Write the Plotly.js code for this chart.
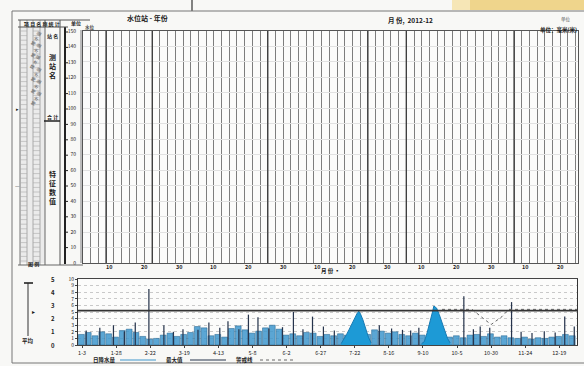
<!DOCTYPE html>
<html><head><meta charset="utf-8">
<script src="https://cdn.plot.ly/plotly-3.0.1.min.js"></script>
<style>html,body{margin:0;padding:0;background:#f8f8f6;}#chart{width:584px;height:366px;}</style>
</head><body><div id="chart"></div>
<script>
// ---------- data ----------
const pentadVals = [1.6,1.9,1.4,2.0,1.7,1.2,2.2,2.4,1.9,1.3,
  0.9,1.0,1.5,1.8,1.3,1.6,1.9,2.8,2.6,1.4,
  1.6,1.2,2.5,2.9,2.3,1.8,2.1,2.6,3.0,2.4,
  1.5,1.7,1.4,1.9,1.8,1.3,1.6,1.4,1.7,1.5,
  1.2,1.0,1.6,2.3,2.1,1.8,2.0,1.6,1.4,1.8,
  1.5,1.0,1.0,1.3,1.2,1.4,1.1,1.5,1.6,1.3,
  1.7,1.2,1.4,1.1,1.0,1.2,0.9,1.1,1.0,1.2,
  1.3,1.6,1.4];
const spikeDays = [6,16,26,34,42,52,63,70,77,88,96,104,110,118,125,132,140,150,158,165,172,180,188,221,230,238,244,250,283,290,295,302,318,325,333,342,350,357,364];
const spikeVals = [2.2,2.6,3.0,2.1,3.4,8.5,3.0,2.0,2.4,2.3,3.4,2.6,3.6,2.4,4.6,4.2,2.5,2.7,5.0,2.4,4.3,2.8,2.2,3.0,2.5,2.3,2.2,2.6,7.4,2.4,2.8,2.6,6.5,2.0,1.8,2.1,1.9,4.3,2.8];
const flood1Days = [193,195,197,199,201,203,205,206,207,209,211,213,215];
const flood1Vals = [0.2,0.8,1.6,2.4,3.3,4.2,4.9,5.1,4.8,3.8,2.5,1.2,0.3];
const flood2Days = [252,254,256,258,260,261,263,265,267,269,271,273];
const flood2Vals = [0.2,0.5,1.8,3.2,5.0,5.9,5.6,4.6,3.4,2.2,1.0,0.3];
const warnDays = [267,289,295,303,311,316,366];
const warnVals = [5.4,5.4,4.4,3.1,4.3,5.4,5.4];
const meanLevel = 5.2;
const bottomTickDays = [3,28,53,78,103,128,153,178,203,228,253,278,303,328,353];
const bottomTickText = ["1-3","1-28","2-22","3-19","4-13","5-8","6-2","6-27","7-22","8-16","9-10","10-5","10-30","11-24","12-19"];
const topTickPos = [3.5,8,12.5,17,21.5,26,30.5,35,39.5,44,48.5,53,57.5,62];
const topTickText = ["10","20","30","10","20","30","10","20","30","10","20","30","10","20"];
const topLevelVals = [0,1,2,3,4,5,6,7,8,9,10,11,12,13,14,15];
const topLevelText = ["0","10","20","30","40","50","60","70","80","90","100","110","120","130","140","150"];
const monthLines = [3,9,24,37,42,56];
const leftScaleVals = [0,2,4,6,8,10];
const leftScaleText = ["0","1","2","3","4","5"];
const legendNames = ["日降水量","最大值","警戒线"];

// ---------- helpers ----------
const W = 584, H = 366, F = '"Noto Sans CJK SC","Noto Sans",sans-serif';
const px = x => x / W, py = y => 1 - y / H;
function ln(x0,y0,x1,y1,c,w,dash){return {type:'line',xref:'paper',yref:'paper',x0:px(x0),y0:py(y0),x1:px(x1),y1:py(y1),line:{color:c,width:w,dash:dash||'solid'},layer:'above'};}
function rc(x0,y0,x1,y1,fill,lc,lw,layer){return {type:'rect',xref:'paper',yref:'paper',x0:px(x0),y0:py(y0),x1:px(x1),y1:py(y1),fillcolor:fill,line:{color:lc||'rgba(0,0,0,0)',width:lw||0},layer:layer||'below'};}
function tx(x,y,t,size,o){return Object.assign({xref:'paper',yref:'paper',x:px(x),y:py(y),text:t,showarrow:false,font:{size:size,color:'#1a1a1a',family:F},xanchor:'center',yanchor:'middle'},o||{});}

// ---------- traces ----------
const pentadDays = pentadVals.map((v,i)=>5*i+2.5);
const traces = [
  {type:'bar',x:pentadDays,y:pentadVals,width:4.3,xaxis:'x2',yaxis:'y2',name:legendNames[0],
   marker:{color:'rgba(62,150,204,0.85)',line:{color:'#1f5f8a',width:0.5}}},
  {type:'scatter',x:flood1Days,y:flood1Vals,xaxis:'x2',yaxis:'y2',mode:'lines',fill:'tozeroy',
   fillcolor:'#1d9ad6',line:{color:'#167ab3',width:1}},
  {type:'scatter',x:flood2Days,y:flood2Vals,xaxis:'x2',yaxis:'y2',mode:'lines',fill:'tozeroy',
   fillcolor:'#1d9ad6',line:{color:'#167ab3',width:1}},
  {type:'bar',x:spikeDays,y:spikeVals,width:0.9,xaxis:'x2',yaxis:'y2',name:legendNames[1],
   marker:{color:'#26344c'}},
  {type:'scatter',x:warnDays,y:warnVals,xaxis:'x2',yaxis:'y2',mode:'lines',name:legendNames[2],
   line:{color:'#666',width:1,dash:'dot'}}
];

// ---------- decorations ----------
const shapes = [];
const ann = [];
shapes.push(rc(452,0,584,10,'#efd58c'));
shapes.push(rc(452,0,470,10,'#f6e6b6'));
shapes.push(ln(192,0,192,11,'#333',1.2));
shapes.push(rc(12,11,600,363,'rgba(0,0,0,0)','#777',1,'above'));
// left panel
shapes.push(rc(20,27,45,263,'#ebebeb'));
shapes.push(rc(80,30,83,263,'#bcbcbc'));
[[20,'#777',1],[27,'#999',0.8],[33,'#999',0.8],[40,'#999',0.8],[45,'#666',1],[60,'#555',1]].forEach(a=>shapes.push(ln(a[0],20,a[0],265,a[1],a[2])));
shapes.push(ln(65,27,65,264,'#222',2));
shapes.push(ln(18,20,90,20,'#555',1));
shapes.push(ln(18,27,68,27,'#555',1));
shapes.push(ln(18,265,83,265,'#666',1));
for(let y=31;y<263;y+=4.6){shapes.push(ln(20,y,27,y,'#aaa',0.6));shapes.push(ln(33,y,40,y,'#aaa',0.6));}
for(let y=32;y<263;y+=15.4){shapes.push(ln(65,y,68,y,'#222',1));}
ann.push(tx(42,23.5,'<b>项 目 名 称 统 计</b>',5));
ann.push(tx(76,23,'<b>单位</b>',5));
ann.push(tx(90,27,'<b>水位</b>',4.5,{font:{size:4.5,color:'#444',family:F}}));
[38,50,62,74,86,98].forEach(y=>ann.push(tx(36,y,'降 水 量',4.5,{textangle:-60,font:{size:4.5,color:'#555',family:F}})));
ann.push(tx(52,36,'<b>站 名</b>',5));
ann.push(tx(52,117,'<b>合 计</b>',5));
shapes.push(ln(44,121,60,121,'#222',1.5));
ann.push(tx(52.5,66,'<b>测<br>站<br>名</b>',7));
ann.push(tx(52.5,187,'<b>特<br>征<br>数<br>值</b>',7));
ann.push(tx(17,108,'▸',5));
ann.push(tx(17,185,'—',5));
// bottom-left scale
ann.push(tx(33,264,'<b>图 例</b>',5));
shapes.push(ln(28,283,28,336,'#333',1));
shapes.push(ln(24,283,33,283,'#222',1.6));
ann.push(tx(33,311,'▸',6));
ann.push(tx(28,341,'<b>平均</b>',5.5));
leftScaleVals.forEach((v,i)=>ann.push({xref:'paper',yref:'y2',x:px(53),y:v,text:'<b>'+leftScaleText[i]+'</b>',showarrow:false,
  font:{size:6,color:'#222',family:F},xanchor:'center',yanchor:'middle'}));
// header texts
ann.push(tx(147,17.5,'<b>水位站 - 年份</b>',7));
ann.push(tx(410,19.5,'<b>月 份,  2012-12</b>',6.5));
ann.push(tx(566,20,'单位',4.5,{font:{size:4.5,color:'#555',family:F}}));
ann.push(tx(558,30,'<b>单位：毫米(米)</b>',5.5));
ann.push(tx(330,271,'<b>月 份 ▪</b>',5.5));
// top x tick labels placed through the top x scale
topTickPos.forEach((p,i)=>ann.push({xref:'x',yref:'paper',x:p,y:py(266.5),text:'<b>'+topTickText[i]+'</b>',showarrow:false,
  font:{size:5.5,color:'#222',family:F},xanchor:'center',yanchor:'middle'}));
// darker month lines through the top x scale
monthLines.forEach(m=>shapes.push({type:'line',xref:'x',yref:'y domain',x0:m,x1:m,y0:0,y1:1,line:{color:'#3f3f3f',width:1.4},layer:'above'}));
// mean line in bottom panel
shapes.push({type:'line',xref:'x2 domain',yref:'y2',x0:0,x1:1,y0:meanLevel,y1:meanLevel,line:{color:'#333',width:1.8},layer:'above'});
// custom legend
const legX = [104,174,244];
const legSample = [['#3e96cc','solid'],['#26344c','solid'],['#666','dot']];
legendNames.forEach((n,i)=>{
  ann.push(tx(legX[i],360,'<b>'+n+'</b>',5.5));
  shapes.push(ln(legX[i]+16,360,legX[i]+52,360,legSample[i][0],1,legSample[i][1]));
});

const axCommon = {zeroline:false,showline:true,linecolor:'#555',linewidth:1,mirror:true,fixedrange:true};
const layout = {
  width:W,height:H,margin:{l:0,r:0,t:0,b:0},autosize:false,
  paper_bgcolor:'#f8f8f6',plot_bgcolor:'#fcfcfb',
  font:{family:F,size:6,color:'#1a1a1a'},
  barmode:'overlay',showlegend:false,
  xaxis:Object.assign({},axCommon,{domain:[83/W,578/W],range:[0,64.3],tickmode:'linear',dtick:1,tick0:0,anchor:'y',
    showgrid:true,gridcolor:'#7e7e7e',gridwidth:1,showticklabels:false,ticks:''}),
  yaxis:Object.assign({},axCommon,{domain:[py(263),py(31)],range:[0,15],tickmode:'array',tickvals:topLevelVals,ticktext:topLevelText,anchor:'x',
    showgrid:true,gridcolor:'#e2e2e2',ticks:'',ticklabelstandoff:5,tickfont:{size:5,color:'#222',family:F}}),
  xaxis2:Object.assign({},axCommon,{domain:[78/W,577/W],range:[0,366],anchor:'y2',tickmode:'array',tickvals:bottomTickDays,ticktext:bottomTickText,
    showgrid:false,ticks:'outside',ticklen:2,tickfont:{size:5.5,color:'#222',family:F},linecolor:'#444'}),
  yaxis2:Object.assign({},axCommon,{domain:[py(345),py(279)],range:[0,10],tickmode:'linear',tick0:0,dtick:1,anchor:'x2',showgrid:true,gridcolor:'#c9c9c9',griddash:'dot',
    ticks:'outside',ticklen:2,tickfont:{size:5,color:'#222',family:F},linecolor:'#333'}),
  shapes:shapes,annotations:ann
};
Plotly.newPlot('chart',traces,layout,{displayModeBar:false,staticPlot:true});
</script></body></html>
